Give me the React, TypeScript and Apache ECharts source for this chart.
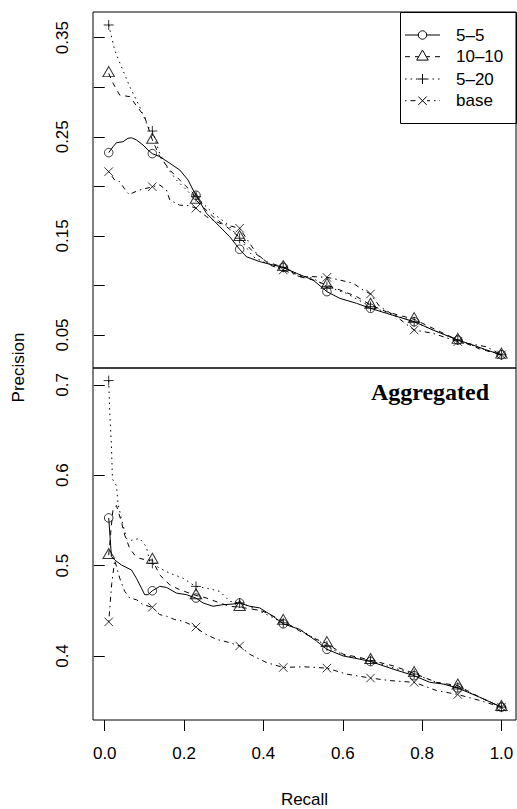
import React, { useEffect, useRef } from "react";
import * as echarts from "echarts";

const FONT = "'Liberation Sans', Arial, Helvetica, sans-serif";

// recall positions where markers are drawn
const markX = [0.01, 0.12, 0.23, 0.34, 0.45, 0.56, 0.67, 0.78, 0.89, 1.0];
const seriesNames = ["5–5", "10–10", "5–20", "base"];

const xTicks = [0, 0.2, 0.4, 0.6, 0.8, 1.0];
const topYTicks = [0.05, 0.1, 0.15, 0.2, 0.25, 0.3, 0.35];
const topYLabels = [0.05, 0.15, 0.25, 0.35];
const botYTicks = [0.4, 0.5, 0.6, 0.7];

// ---------- top panel ----------
const top55Marks = [0.234, 0.233, 0.191, 0.1365, 0.1183, 0.0937, 0.0769, 0.0634, 0.0449, 0.03];
const top1010Marks = [0.314, 0.2468, 0.1862, 0.1486, 0.1183, 0.1005, 0.0803, 0.0658, 0.0449, 0.03];
const top520Marks = [0.3628, 0.2558, 0.1896, 0.1476, 0.1183, 0.0988, 0.0786, 0.0634, 0.0449, 0.03];
const topBaseMarks = [0.2148, 0.1996, 0.178, 0.1577, 0.1156, 0.1082, 0.0914, 0.055, 0.0433, 0.03];

const top55Curve = [
  [0.021, 0.24], [0.0295, 0.244], [0.046, 0.245], [0.0587, 0.2485], [0.0673, 0.249],
  [0.0799, 0.2468], [0.0965, 0.2417], [0.109, 0.2367],
  [0.1386, 0.23], [0.164, 0.2233], [0.189, 0.2165], [0.21, 0.2064], [0.2226, 0.1963],
  [0.2564, 0.1728], [0.29, 0.1593], [0.315, 0.1492],
  [0.357, 0.129], [0.3907, 0.124], [0.4243, 0.1206],
  [0.483, 0.1123], [0.525, 0.1055], [0.5503, 0.0971],
  [0.5924, 0.087], [0.6345, 0.082],
  [0.71, 0.0719], [0.8276, 0.055],
  [0.928, 0.0399], [0.962, 0.0349],
];
const top1010Curve = [
  [0.021, 0.304], [0.0378, 0.292], [0.063, 0.2905], [0.088, 0.277], [0.1008, 0.27],
  [0.1386, 0.23], [0.164, 0.2165], [0.1974, 0.203], [0.2226, 0.1931],
  [0.273, 0.1694], [0.3068, 0.1593],
  [0.3738, 0.134], [0.4076, 0.124],
  [0.4916, 0.1089], [0.525, 0.1055],
  [0.5924, 0.0955], [0.6345, 0.0888],
  [0.71, 0.0735], [0.8276, 0.0567], [0.945, 0.036],
];
const top520Curve = [
  [0.025, 0.3376], [0.042, 0.3207], [0.063, 0.3006], [0.088, 0.2804], [0.109, 0.2602],
  [0.1386, 0.2333], [0.1555, 0.2198], [0.1807, 0.2064], [0.2143, 0.193],
  [0.273, 0.1728], [0.3068, 0.1627],
  [0.3738, 0.129], [0.4076, 0.1223],
  [0.4916, 0.1105], [0.525, 0.1072],
  [0.609, 0.0921], [0.718, 0.0719], [0.8276, 0.055], [0.945, 0.037],
];
const topBaseCurve = [
  [0.025, 0.2064], [0.0378, 0.2047], [0.0547, 0.1946], [0.063, 0.1913], [0.0713, 0.1936],
  [0.088, 0.1963], [0.105, 0.198],
  [0.1386, 0.2014], [0.1555, 0.1963], [0.164, 0.1862], [0.189, 0.181], [0.211, 0.1805],
  [0.2564, 0.1694], [0.29, 0.1627],
  [0.3824, 0.1324], [0.416, 0.1206],
  [0.4916, 0.1089], [0.525, 0.1089],
  [0.5924, 0.1055], [0.626, 0.1022], [0.651, 0.0955],
  [0.6932, 0.0786], [0.7353, 0.0685],
  [0.8276, 0.0517], [0.9118, 0.0416], [0.962, 0.0382],
];

// ---------- bottom panel (Aggregated) ----------
const bot55Marks = [0.5527, 0.4722, 0.4641, 0.4587, 0.4356, 0.4074, 0.3939, 0.3782, 0.3646, 0.3434];
const bot1010Marks = [0.5116, 0.5062, 0.467, 0.4539, 0.4386, 0.414, 0.3953, 0.3808, 0.3672, 0.3434];
const bot520Marks = [0.7047, 0.5025, 0.477, 0.4587, 0.4367, 0.4111, 0.3947, 0.38, 0.3654, 0.3434];
const botBaseMarks = [0.4378, 0.4539, 0.432, 0.4111, 0.3873, 0.3866, 0.3756, 0.3709, 0.3574, 0.3434];

const bot55Curve = [
  [0.0169, 0.51], [0.0252, 0.5062], [0.042, 0.5007], [0.0587, 0.497], [0.0673, 0.4952],
  [0.0799, 0.486], [0.0925, 0.4751], [0.1008, 0.4678], [0.109, 0.4678],
  [0.1386, 0.477], [0.1555, 0.4759], [0.1807, 0.4696], [0.206, 0.4678],
  [0.2478, 0.4587], [0.273, 0.455], [0.2982, 0.4568], [0.3234, 0.4575],
  [0.3655, 0.455], [0.3907, 0.4532], [0.4243, 0.444],
  [0.4916, 0.4294], [0.5337, 0.4166],
  [0.6007, 0.4001], [0.6428, 0.3965],
  [0.7268, 0.3855], [0.8193, 0.3709], [0.8528, 0.369], [0.9453, 0.3544],
];
const bot1010Curve = [
  [0.0169, 0.545], [0.021, 0.5629], [0.0295, 0.5665], [0.042, 0.5483], [0.0504, 0.5336],
  [0.063, 0.519], [0.0756, 0.5116], [0.088, 0.508], [0.105, 0.5062],
  [0.1386, 0.4897], [0.164, 0.4787], [0.189, 0.4733],
  [0.2564, 0.4641], [0.29, 0.4587], [0.315, 0.455],
  [0.3655, 0.4524], [0.399, 0.4495],
  [0.4916, 0.4276], [0.5337, 0.4184],
  [0.6007, 0.402], [0.6428, 0.3983],
  [0.7268, 0.3892], [0.8362, 0.3709], [0.9453, 0.3544],
];
const bot520Curve = [
  [0.0126, 0.669], [0.0169, 0.632], [0.0194, 0.5958], [0.0295, 0.5884], [0.0335, 0.5684],
  [0.042, 0.5519], [0.0547, 0.53], [0.0673, 0.528], [0.088, 0.53], [0.105, 0.5208], [0.1134, 0.5044],
  [0.1386, 0.497], [0.164, 0.4916], [0.1974, 0.4861], [0.2226, 0.4787],
  [0.2564, 0.4751], [0.29, 0.4715], [0.315, 0.4605],
  [0.3655, 0.455], [0.4076, 0.446],
  [0.4916, 0.4294], [0.5337, 0.418],
  [0.6007, 0.401], [0.7268, 0.387], [0.8362, 0.3709], [0.9453, 0.3544],
];
const botBaseCurve = [
  [0.0176, 0.48], [0.0252, 0.506], [0.0378, 0.486], [0.0504, 0.4715], [0.063, 0.4641],
  [0.0799, 0.4623], [0.0965, 0.4568],
  [0.1386, 0.4458], [0.1555, 0.444], [0.1765, 0.4403], [0.1974, 0.4385],
  [0.2478, 0.4257], [0.2816, 0.4184], [0.315, 0.4148],
  [0.3655, 0.4019], [0.4076, 0.3928],
  [0.5, 0.3881], [0.6093, 0.38], [0.7184, 0.3728], [0.8362, 0.3618], [0.9453, 0.3508],
];

const plusPath = "path://M5,0L5,10M0,5L10,5";
const crossPath = "path://M0,0L10,10M0,10L10,0";

const styles = [
  { dash: "solid" as any, symbol: "circle", size: 8.5 as any, offset: [0, 0] },
  { dash: [5, 5] as any, symbol: "triangle", size: [11.5, 10] as any, offset: [0, -1.7] },
  { dash: [1.5, 4] as any, symbol: plusPath, size: 10 as any, offset: [0, 0] },
  { dash: [1.5, 4, 5, 4] as any, symbol: crossPath, size: 8.5 as any, offset: [0, 0] },
];

function merge(curve: number[][], marks: number[]) {
  const pts = curve.concat(marks.map((y, i) => [markX[i], y]));
  pts.sort((a, b) => a[0] - b[0]);
  return pts;
}

const XMIN = -0.0296;
const XMAX = 1.0367;

export default function App() {
  const ref = useRef<HTMLDivElement>(null);
  useEffect(() => {
    if (!ref.current) return;
    const chart = echarts.init(ref.current, undefined, { renderer: "svg" });
    const panels = [
      { curves: [top55Curve, top1010Curve, top520Curve, topBaseCurve], marks: [top55Marks, top1010Marks, top520Marks, topBaseMarks] },
      { curves: [bot55Curve, bot1010Curve, bot520Curve, botBaseCurve], marks: [bot55Marks, bot1010Marks, bot520Marks, botBaseMarks] },
    ];
    const series: any[] = [];
    panels.forEach((p, pi) => {
      for (let s = 0; s < 4; s++) {
        series.push({
          type: "line",
          name: seriesNames[s],
          xAxisIndex: pi,
          yAxisIndex: pi,
          data: merge(p.curves[s], p.marks[s]),
          showSymbol: false,
          symbol: "none",
          lineStyle: { color: "#000", width: 1, type: styles[s].dash, cap: "butt" },
          z: 2,
        });
        series.push({
          type: "scatter",
          name: seriesNames[s],
          xAxisIndex: pi,
          yAxisIndex: pi,
          data: p.marks[s].map((y, i) => [markX[i], y]),
          symbol: styles[s].symbol,
          symbolSize: styles[s].size,
          symbolOffset: styles[s].offset,
          itemStyle: { color: "rgba(0,0,0,0)", borderColor: "#000", borderWidth: 1 },
          z: 3,
        });
      }
    });

    const legendY = [35, 56.7, 79, 100.7];
    const lx0 = 405, lx1 = 440, lcx = 422.5, ltx = 456;
    const legendEls: any[] = [
      { type: "rect", shape: { x: 400.5, y: 12.5, width: 116, height: 111 }, style: { fill: "none", stroke: "#000", lineWidth: 1 } },
    ];
    legendY.forEach((y, s) => {
      legendEls.push({
        type: "line",
        shape: { x1: lx0, y1: y, x2: lx1, y2: y },
        style: { stroke: "#000", lineWidth: 1, lineDash: s === 0 ? null : styles[s].dash },
      });
      if (s === 0) {
        legendEls.push({ type: "circle", shape: { cx: lcx, cy: y, r: 4.2 }, style: { fill: "#fff", stroke: "#000", lineWidth: 1 } });
      } else if (s === 1) {
        legendEls.push({
          type: "polygon",
          shape: { points: [[lcx - 5.8, y + 3.4], [lcx + 5.8, y + 3.4], [lcx, y - 6.6]] },
          style: { fill: "#fff", stroke: "#000", lineWidth: 1 },
        });
      } else if (s === 2) {
        legendEls.push({ type: "rect", shape: { x: lcx - 5, y: y - 5, width: 10, height: 10 }, style: { fill: "#fff", stroke: "none" } });
        legendEls.push({ type: "line", shape: { x1: lcx - 5, y1: y, x2: lcx + 5, y2: y }, style: { stroke: "#000", lineWidth: 1 } });
        legendEls.push({ type: "line", shape: { x1: lcx, y1: y - 5, x2: lcx, y2: y + 5 }, style: { stroke: "#000", lineWidth: 1 } });
      } else {
        legendEls.push({ type: "rect", shape: { x: lcx - 4.5, y: y - 4.5, width: 9, height: 9 }, style: { fill: "#fff", stroke: "none" } });
        legendEls.push({ type: "line", shape: { x1: lcx - 4.2, y1: y - 4.2, x2: lcx + 4.2, y2: y + 4.2 }, style: { stroke: "#000", lineWidth: 1 } });
        legendEls.push({ type: "line", shape: { x1: lcx - 4.2, y1: y + 4.2, x2: lcx + 4.2, y2: y - 4.2 }, style: { stroke: "#000", lineWidth: 1 } });
      }
      legendEls.push({
        type: "text",
        x: ltx,
        y: y,
        style: { text: seriesNames[s], font: `17px ${FONT}`, fill: "#000", align: "left", verticalAlign: "middle", textAlign: "left", textVerticalAlign: "middle" },
      });
    });

    const labelStyle = { fontSize: 17, color: "#000", fontFamily: FONT };

    const option: any = {
      animation: false,
      backgroundColor: "#fff",
      textStyle: { fontFamily: FONT },
      grid: [
        { left: 93, top: 12, width: 423, height: 356, show: true, borderColor: "#000", borderWidth: 1, backgroundColor: "transparent" },
        { left: 93, top: 368, width: 423, height: 355, show: true, borderColor: "#000", borderWidth: 1, backgroundColor: "transparent" },
      ],
      xAxis: [
        { type: "value", gridIndex: 0, min: XMIN, max: XMAX, show: false, splitLine: { show: false } },
        {
          type: "value", gridIndex: 1, min: XMIN, max: XMAX,
          axisLine: { show: false }, splitLine: { show: false },
          axisTick: { show: true, inside: false, length: 11, customValues: xTicks, lineStyle: { color: "#000", width: 1 } },
          axisLabel: { show: true, customValues: xTicks, formatter: (v: number) => v.toFixed(1), margin: 25, ...labelStyle },
          name: "Recall", nameLocation: "middle", nameGap: 71, nameTextStyle: { ...labelStyle },
        },
      ],
      yAxis: [
        {
          type: "value", gridIndex: 0, min: 0.0167, max: 0.3759,
          axisLine: { show: false }, splitLine: { show: false },
          axisTick: { show: true, inside: false, length: 11, customValues: topYTicks, lineStyle: { color: "#000", width: 1 } },
          axisLabel: { show: true, customValues: topYLabels, rotate: 90, margin: 22, formatter: (v: number) => v.toFixed(2), ...labelStyle },
        },
        {
          type: "value", gridIndex: 1, min: 0.3292, max: 0.7186,
          axisLine: { show: false }, splitLine: { show: false },
          axisTick: { show: true, inside: false, length: 11, customValues: botYTicks, lineStyle: { color: "#000", width: 1 } },
          axisLabel: { show: true, customValues: botYTicks, rotate: 90, margin: 22, formatter: (v: number) => v.toFixed(1), ...labelStyle },
        },
      ],
      series,
      graphic: [
        ...legendEls,
        {
          type: "text", x: 430, y: 392,
          style: { text: "Aggregated", font: "bold 24px 'Liberation Serif', 'Times New Roman', serif", fill: "#000", align: "center", verticalAlign: "middle", textAlign: "center", textVerticalAlign: "middle" },
        },
        {
          type: "text", x: 18, y: 367.5, rotation: Math.PI / 2,
          style: { text: "Precision", font: `17px ${FONT}`, fill: "#000", align: "center", verticalAlign: "middle", textAlign: "center", textVerticalAlign: "middle" },
        },
      ],
    };
    chart.setOption(option);
    return () => chart.dispose();
  }, []);
  return <div ref={ref} style={{ position: "absolute", left: 0, top: 0, width: 517, height: 809 }} />;
}
